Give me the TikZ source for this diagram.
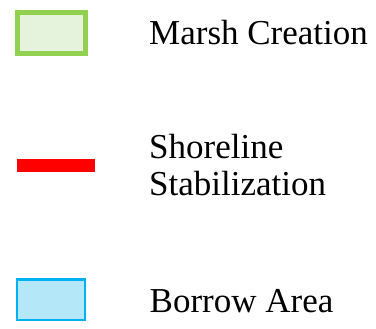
\documentclass[tikz,border=0pt]{standalone}
\usepackage{fontspec}
\setmainfont{Liberation Serif}
\definecolor{marshfill}{HTML}{E6F3DC}
\definecolor{marshline}{HTML}{92D050}
\definecolor{borrowfill}{HTML}{B4E8F9}
\definecolor{borrowline}{HTML}{00B0F0}
\definecolor{shorered}{HTML}{FF0000}
\tikzset{
  legtext/.style={anchor=base west, inner sep=0pt, font=\fontsize{35}{37}\selectfont, text=black},
}
\begin{document}
\begin{tikzpicture}[x=1pt,y=-1pt]
\useasboundingbox (0,0) rectangle (376,329);
% Marsh creation
\draw[marshline, fill=marshfill, line width=5pt] (17.5,12.5) rectangle (85.2,53.5);
\node[legtext] (marsh) at (149,44.3) {Marsh Creation};
% Shoreline stabilization
\coordinate (redA) at (17.3,165.5);
\coordinate (redB) at (95,165.5);
\draw[shorered, line width=12.4pt, line cap=butt] (redA) -- (redB);
\node[legtext] (shore1) at (149,159) {Shoreline};
\node[legtext] (shore2) at (149,196) {Stabilization};
% Borrow area
\draw[borrowline, fill=borrowfill, line width=2.4pt] (17.2,279.5) rectangle (84.8,319.8);
\node[legtext] (borrow) at (149.5,312.3) {Borrow Area};
\end{tikzpicture}
\end{document}
